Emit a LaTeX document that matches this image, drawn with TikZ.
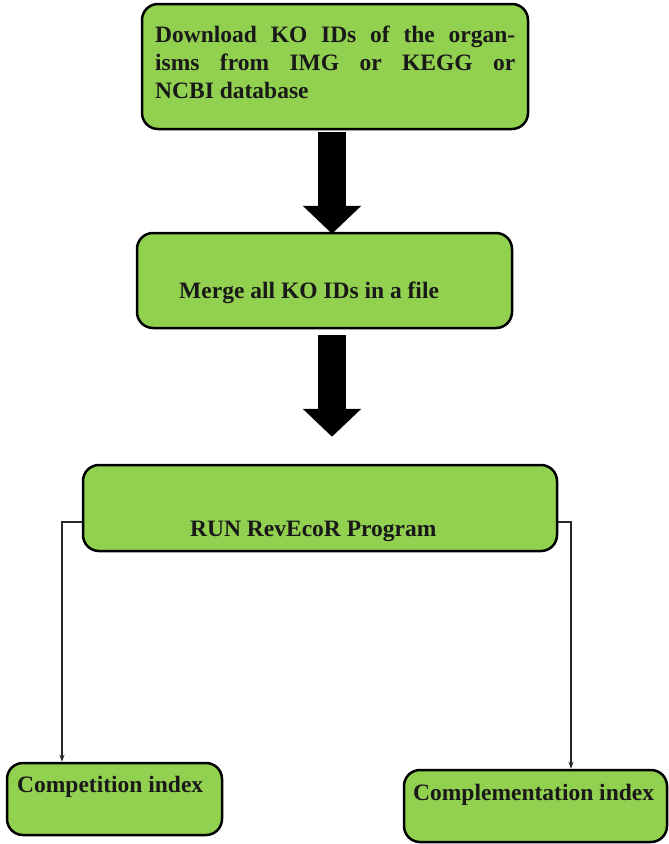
\documentclass[tikz,border=0pt]{standalone}
\usepackage{fontspec}
\setmainfont{Liberation Serif}
\usetikzlibrary{arrows.meta}
\definecolor{boxgreen}{RGB}{146,208,80}
\tikzset{
  flowbox/.style={draw=black, fill=boxgreen, line width=2.5pt, rounded corners=16pt,
    inner sep=0pt, minimum width=#1},
  label txt/.style={inner sep=0pt, font=\fontsize{23.5}{28}\selectfont\bfseries, text=black!90},
  bigarrow/.style={line width=28pt, draw=black, -{Triangle[width=57pt,length=28pt]}},
  conn/.style={draw=black!85, line width=1.8pt, -{Stealth[length=7pt,width=5pt]}},
}
\begin{document}
\begin{tikzpicture}[x=1pt,y=-1pt]
\useasboundingbox (0,0) rectangle (669,844);

% process boxes
\node[flowbox=386pt, minimum height=125pt] (b1) at (335,66.5) {};
\node[flowbox=375pt, minimum height=95pt] (b2) at (324.5,280.5) {};
\node[flowbox=474pt, minimum height=86pt] (b3) at (320,508) {};
\node[flowbox=215pt, minimum height=72pt] (b4) at (114.5,799) {};
\node[flowbox=263pt, minimum height=72pt] (b5) at (535.5,806) {};

% box texts
\node[label txt, anchor=north west, text width=360pt, align=justify] (t1) at (155,26)
  {Download KO IDs of the organ-\linebreak isms from IMG or KEGG or\linebreak NCBI database};
\node[label txt, anchor=base west] (t2) at (179,298) {Merge all KO IDs in a file};
\node[label txt, anchor=base west] (t3) at (190,536) {RUN RevEcoR Program};
\node[label txt, anchor=base west] (t4) at (17,792) {Competition index};
\node[label txt, anchor=base west] (t5) at (413,800) {Complementation index};

% heavy arrows between the first steps
\coordinate (ax) at (332,0);
\draw[bigarrow] ([yshift=-1.5pt]b1.south -| ax) -- ([yshift=-2pt]b2.north -| ax);
\draw[bigarrow] ([yshift=-6pt]b2.south -| ax) -- ([yshift=27pt]b3.north -| ax);

% branches to the two indices
\coordinate (lx) at (62,0);
\coordinate (rx) at (571,0);
\draw[conn] ([yshift=-14pt]b3.west) -| (lx |- b4.north);
\draw[conn] ([yshift=-14pt]b3.east) -| (rx |- b5.north);
\end{tikzpicture}
\end{document}
